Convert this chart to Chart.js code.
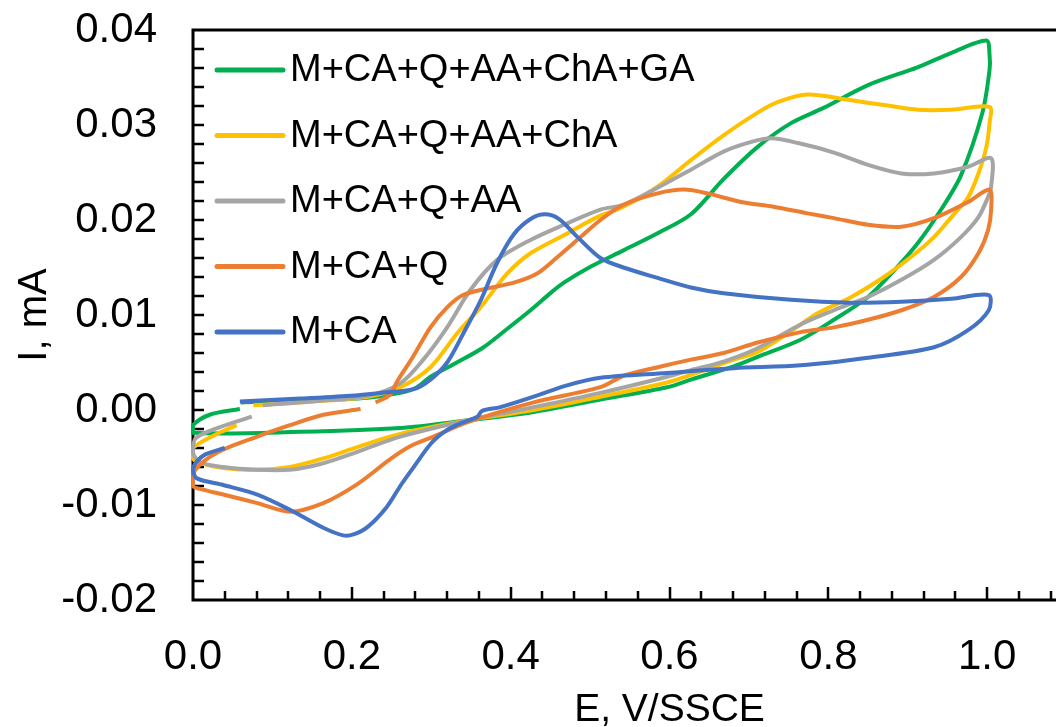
<!DOCTYPE html>
<html>
<head>
<meta charset="utf-8">
<script src="https://cdn.jsdelivr.net/npm/chart.js@4.4.1/dist/chart.umd.min.js"></script>
<style>
  html, body { margin: 0; padding: 0; background: #fff; overflow: hidden; }
  #wrap { width: 1056px; height: 727px; overflow: hidden; }
</style>
</head>
<body>
<div id="wrap"><canvas id="cv" width="1146" height="727"></canvas></div>
<script>
/* ------------------------------
   DATA  (E in V/SSCE, I in mA)
------------------------------ */
const seriesNames = ["M+CA+Q+AA+ChA+GA", "M+CA+Q+AA+ChA", "M+CA+Q+AA", "M+CA+Q", "M+CA"];

const gaE = [0.060, 0.150, 0.220, 0.261, 0.282, 0.299, 0.330, 0.364, 0.395, 0.425, 0.450, 0.467, 0.501, 0.542, 0.585, 0.627, 0.668, 0.711, 0.753, 0.794, 0.850, 0.913, 0.955, 0.999, 1.003, 1.003, 0.994, 0.967, 0.942, 0.913, 0.883, 0.850, 0.807, 0.765, 0.711, 0.681, 0.627, 0.597, 0.513, 0.429, 0.345, 0.261, 0.135, 0.000, 0.000, 0.021, 0.059];
const gaI = [0.0008, 0.0010, 0.0013, 0.0018, 0.0024, 0.0035, 0.0049, 0.0065, 0.0085, 0.0105, 0.0123, 0.0134, 0.0151, 0.0168, 0.0186, 0.0206, 0.0243, 0.0277, 0.0302, 0.0318, 0.0342, 0.0361, 0.0376, 0.0389, 0.0374, 0.0358, 0.0313, 0.0247, 0.0211, 0.0176, 0.0147, 0.0119, 0.0095, 0.0074, 0.0056, 0.0046, 0.0032, 0.0024, 0.0011, -0.0002, -0.0011, -0.0019, -0.0023, -0.0024, -0.0016, -0.0005, 0.0001];

const chaE = [0.076, 0.150, 0.220, 0.261, 0.299, 0.333, 0.362, 0.396, 0.425, 0.467, 0.509, 0.542, 0.585, 0.627, 0.668, 0.711, 0.736, 0.774, 0.829, 0.870, 0.913, 0.955, 1.003, 1.003, 0.999, 0.989, 0.976, 0.955, 0.933, 0.904, 0.870, 0.829, 0.787, 0.753, 0.711, 0.681, 0.627, 0.597, 0.513, 0.429, 0.345, 0.282, 0.248, 0.207, 0.164, 0.122, 0.081, 0.038, 0.009, 0.000, 0.000, 0.028, 0.055];
const chaI = [0.0005, 0.0009, 0.0014, 0.0024, 0.0045, 0.0081, 0.0108, 0.0144, 0.0165, 0.0184, 0.0203, 0.0214, 0.0235, 0.0263, 0.0289, 0.0313, 0.0324, 0.0332, 0.0326, 0.0321, 0.0316, 0.0316, 0.0319, 0.0302, 0.0277, 0.0249, 0.0224, 0.0203, 0.0182, 0.0161, 0.0140, 0.0119, 0.0102, 0.0083, 0.0061, 0.0053, 0.0037, 0.0029, 0.0014, 0.0000, -0.0011, -0.0021, -0.0028, -0.0039, -0.0051, -0.0060, -0.0063, -0.0061, -0.0056, -0.0051, -0.0040, -0.0026, -0.0016];

const aaE = [0.088, 0.150, 0.220, 0.261, 0.290, 0.320, 0.349, 0.383, 0.425, 0.467, 0.513, 0.542, 0.585, 0.627, 0.668, 0.702, 0.728, 0.762, 0.807, 0.850, 0.892, 0.933, 0.976, 1.005, 1.005, 1.001, 0.989, 0.967, 0.933, 0.892, 0.850, 0.807, 0.765, 0.711, 0.668, 0.627, 0.597, 0.513, 0.429, 0.345, 0.261, 0.207, 0.164, 0.122, 0.081, 0.038, 0.009, 0.000, 0.003, 0.034, 0.074];
const aaI = [0.0005, 0.0009, 0.0015, 0.0028, 0.0053, 0.0087, 0.0126, 0.0158, 0.0179, 0.0195, 0.0211, 0.0216, 0.0234, 0.0253, 0.0272, 0.0282, 0.0286, 0.0281, 0.0271, 0.0258, 0.0249, 0.0249, 0.0256, 0.0265, 0.0235, 0.0224, 0.0203, 0.0182, 0.0158, 0.0137, 0.0119, 0.0105, 0.0090, 0.0065, 0.0051, 0.0042, 0.0035, 0.0018, 0.0003, -0.0011, -0.0028, -0.0044, -0.0056, -0.0063, -0.0063, -0.0060, -0.0055, -0.0045, -0.0030, -0.0018, -0.0007];

const qE = [0.230, 0.248, 0.257, 0.277, 0.299, 0.320, 0.340, 0.371, 0.404, 0.434, 0.459, 0.488, 0.513, 0.542, 0.585, 0.618, 0.648, 0.690, 0.731, 0.774, 0.807, 0.850, 0.892, 0.933, 0.976, 1.003, 1.005, 1.001, 0.989, 0.967, 0.933, 0.892, 0.850, 0.807, 0.765, 0.711, 0.668, 0.627, 0.585, 0.542, 0.513, 0.429, 0.345, 0.303, 0.274, 0.248, 0.207, 0.164, 0.122, 0.081, 0.038, 0.009, 0.000, 0.002, 0.030, 0.081, 0.122, 0.164, 0.211];
const qI = [0.0008, 0.0016, 0.0030, 0.0056, 0.0087, 0.0108, 0.0121, 0.0128, 0.0134, 0.0144, 0.0161, 0.0182, 0.0200, 0.0216, 0.0228, 0.0232, 0.0228, 0.0219, 0.0214, 0.0207, 0.0202, 0.0195, 0.0193, 0.0202, 0.0219, 0.0232, 0.0211, 0.0189, 0.0165, 0.0140, 0.0119, 0.0105, 0.0095, 0.0087, 0.0082, 0.0071, 0.0060, 0.0053, 0.0045, 0.0036, 0.0024, 0.0008, -0.0013, -0.0028, -0.0038, -0.0052, -0.0078, -0.0098, -0.0107, -0.0098, -0.0089, -0.0083, -0.0080, -0.0064, -0.0045, -0.0028, -0.0016, -0.0005, 0.0001];

const caE = [0.059, 0.135, 0.198, 0.236, 0.278, 0.299, 0.320, 0.340, 0.362, 0.383, 0.404, 0.425, 0.443, 0.461, 0.483, 0.513, 0.542, 0.585, 0.627, 0.668, 0.753, 0.828, 0.892, 0.955, 1.002, 1.002, 0.976, 0.933, 0.850, 0.765, 0.681, 0.597, 0.513, 0.471, 0.429, 0.387, 0.364, 0.358, 0.337, 0.320, 0.300, 0.278, 0.261, 0.244, 0.220, 0.202, 0.189, 0.164, 0.122, 0.081, 0.038, 0.005, 0.000, 0.004, 0.015, 0.040];
const caI = [0.0009, 0.0012, 0.0015, 0.0018, 0.0022, 0.0032, 0.0050, 0.0080, 0.0115, 0.0155, 0.0185, 0.0201, 0.0206, 0.0201, 0.0183, 0.0160, 0.0150, 0.0139, 0.0129, 0.0123, 0.0116, 0.0113, 0.0114, 0.0117, 0.0121, 0.0105, 0.0084, 0.0066, 0.0055, 0.0047, 0.0044, 0.0039, 0.0034, 0.0026, 0.0014, 0.0003, -0.0001, -0.0007, -0.0014, -0.0021, -0.0035, -0.0060, -0.0080, -0.0102, -0.0123, -0.0131, -0.0132, -0.0124, -0.0105, -0.0089, -0.0079, -0.0072, -0.0063, -0.0055, -0.0047, -0.0040];

const xTickValues = [0.0, 0.2, 0.4, 0.6, 0.8, 1.0];
const yTickValues = [-0.02, -0.01, 0.00, 0.01, 0.02, 0.03, 0.04];

/* ------------------------------
   STYLE
------------------------------ */
const colors = ["#00B050", "#FFC000", "#A5A5A5", "#ED7D31", "#4472C4"];
const FONT = "'Liberation Sans', Arial, sans-serif";

const toPoints = (E, I) => E.map((e, i) => ({ x: e, y: I[i] }));
const series = [[gaE, gaI], [chaE, chaI], [aaE, aaI], [qE, qI], [caE, caI]];

const datasets = series.map(([E, I], i) => ({
  label: seriesNames[i],
  data: toPoints(E, I),
  showLine: true,
  borderColor: colors[i],
  backgroundColor: colors[i],
  borderWidth: 4,
  pointRadius: 0,
  tension: 0.3,
  clip: 8,
  order: series.length - 1 - i   // blue drawn last (on top)
}));

/* ------------------------------
   AXES FRAME + INWARD TICKS
------------------------------ */
const framePlugin = {
  id: "frame",
  beforeDatasetsDraw(chart) {
    const { ctx, chartArea: a, scales: { x, y } } = chart;
    ctx.save();
    ctx.strokeStyle = "#000";
    ctx.lineCap = "square";
    ctx.lineWidth = 3;
    ctx.beginPath();
    ctx.moveTo(a.right, a.top); ctx.lineTo(a.left, a.top);
    ctx.lineTo(a.left, a.bottom); ctx.lineTo(a.right, a.bottom);
    ctx.stroke();

    ctx.lineWidth = 2.5;
    ctx.lineCap = "butt";
    ctx.beginPath();
    for (let k = 1; k < 30; k++) {
      const py = Math.round(y.getPixelForValue(y.min + k * 0.002));
      ctx.moveTo(a.left, py); ctx.lineTo(a.left + 11, py);
    }
    for (let k = 1; k * 0.04 < x.max; k++) {
      const px = Math.round(x.getPixelForValue(k * 0.04));
      const len = k % 5 === 0 ? 13 : 9;
      ctx.moveTo(px, a.bottom); ctx.lineTo(px, a.bottom - len);
    }
    ctx.stroke();
    ctx.restore();
  }
};

/* ------------------------------
   LEGEND (inside plot, top-left)
------------------------------ */
const legendPlugin = {
  id: "innerLegend",
  afterDatasetsDraw(chart) {
    const { ctx } = chart;
    ctx.save();
    ctx.font = "38px " + FONT;
    ctx.textBaseline = "middle";
    ctx.fillStyle = "#000";
    seriesNames.forEach((name, i) => {
      const yy = 70 + i * 65.5;
      ctx.strokeStyle = colors[i];
      ctx.lineWidth = 5;
      ctx.lineCap = "round";
      ctx.beginPath();
      ctx.moveTo(217, yy); ctx.lineTo(283, yy);
      ctx.stroke();
      ctx.fillText(name, 290, yy + 1);
    });
    ctx.restore();
  }
};

/* ------------------------------
   CHART
------------------------------ */
new Chart(document.getElementById("cv"), {
  type: "scatter",
  data: { datasets },
  options: {
    responsive: false,
    animation: false,
    layout: { padding: { top: 30, left: 0, right: 0, bottom: 0 } },
    plugins: { legend: { display: false }, tooltip: { enabled: false } },
    scales: {
      x: {
        type: "linear",
        min: 0,
        max: 1.2,
        grid: { display: false, drawTicks: false },
        border: { display: false },
        afterBuildTicks: s => { s.ticks = xTickValues.map(v => ({ value: v })); },
        afterFit: s => { s.height = 127; s.paddingLeft = 0; s.paddingRight = 0; },
        ticks: {
          padding: 32,
          color: "#000",
          font: { family: FONT, size: 42 },
          maxRotation: 0,
          callback: v => Number(v).toFixed(1)
        },
        title: {
          display: true,
          text: "E, V/SSCE",
          color: "#000",
          font: { family: FONT, size: 39, lineHeight: 1 },
          padding: { top: 0, bottom: -3 }
        }
      },
      y: {
        type: "linear",
        min: -0.02,
        max: 0.04,
        grid: { display: false, drawTicks: false },
        border: { display: false },
        afterBuildTicks: s => { s.ticks = yTickValues.map(v => ({ value: v })); },
        afterFit: s => { s.width = 193; s.paddingTop = 0; s.paddingBottom = 0; },
        ticks: {
          padding: 36,
          color: "#000",
          font: { family: FONT, size: 42 },
          callback: v => Number(v).toFixed(2)
        },
        title: {
          display: true,
          text: "I, mA",
          color: "#000",
          font: { family: FONT, size: 40, lineHeight: 1 },
          padding: 15
        }
      }
    }
  },
  plugins: [framePlugin, legendPlugin]
});
</script>
</body>
</html>
